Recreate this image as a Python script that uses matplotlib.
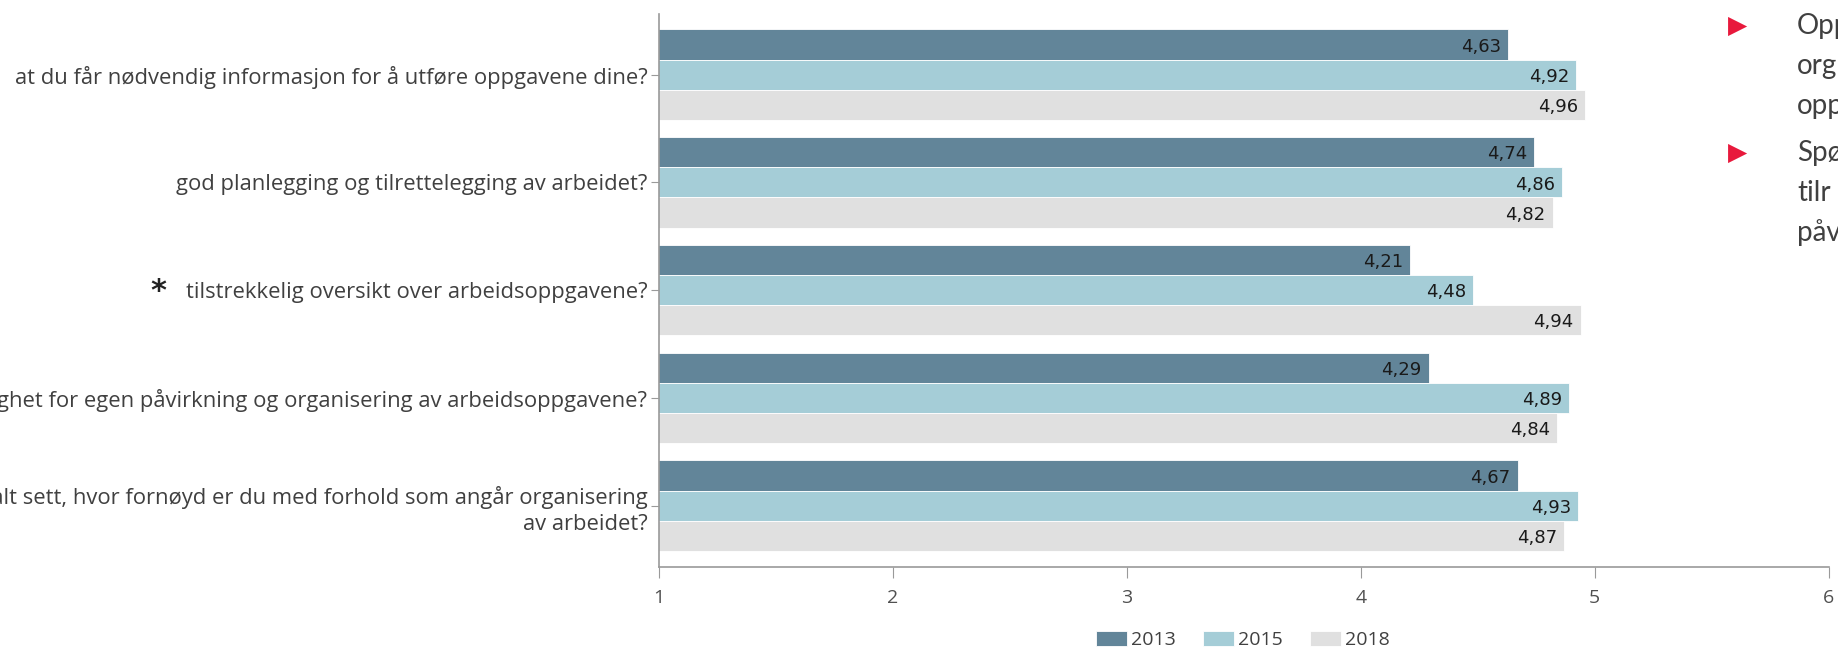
import matplotlib
matplotlib.use("Agg")
import matplotlib.pyplot as plt
import numpy as np

categories = [
    "at du får nødvendig informasjon for å utføre oppgavene dine?",
    "god planlegging og tilrettelegging av arbeidet?",
    "tilstrekkelig oversikt over arbeidsoppgavene?",
    "mulighet for egen påvirkning og organisering av arbeidsoppgavene?",
    "Totalt sett, hvor fornøyd er du med forhold som angår organisering\nav arbeidet?",
]
years = ["2013", "2015", "2018"]
v2013 = [4.63, 4.74, 4.21, 4.29, 4.67]
v2015 = [4.92, 4.86, 4.48, 4.89, 4.93]
v2018 = [4.96, 4.82, 4.94, 4.84, 4.87]
colors = ["#628599", "#a5cdd7", "#e0e0e0"]
x_ticks = [1, 2, 3, 4, 5, 6]
bullets = [["Opp", "org", "opp"],
           ["Spø", "tilr", "påv"]]

plt.rcParams['font.family'] = ['Open Sans', 'DejaVu Sans']

fig = plt.figure(figsize=(18.38, 6.49), dpi=100)
ax = fig.add_axes([0.3583, 0.1263, 0.995 - 0.3583, 0.978 - 0.1263])

y = np.arange(len(categories))
h = 0.28
series = [v2013, v2015, v2018]
for i, (vals, col, yr) in enumerate(zip(series, colors, years)):
    pos = y + (i - 1) * h
    bars = ax.barh(pos, vals, height=h, left=0, color=col, label=yr,
                   edgecolor="white", linewidth=0.6)
    for b, v in zip(bars, vals):
        ax.text(v - 0.03, b.get_y() + b.get_height() / 2 + 0.02,
                f"{v:.2f}".replace(".", ","), ha="right", va="center",
                fontsize=13, color="#1a1a1a", family="DejaVu Sans")

ax.set_xlim(1, 6)
ax.set_ylim(4.57, -0.56)
ax.set_xticks(x_ticks)
ax.set_xticklabels([str(t) for t in x_ticks])
ax.set_yticks(y)
ax.set_yticklabels(categories, fontsize=15.8, color="#404040", linespacing=1.3)

for s in ["top", "right"]:
    ax.spines[s].set_visible(False)
for s in ["left", "bottom"]:
    ax.spines[s].set_color("#9a9a9a")
    ax.spines[s].set_linewidth(1.2)
ax.tick_params(axis="y", length=6, color="#9a9a9a", pad=2)
ax.tick_params(axis="x", length=8, color="#9a9a9a", labelsize=14,
               labelcolor="#505050", pad=8)

# asterisk marker next to third category
fig.text(158 / 1838, 1 - 291 / 649, "*", fontsize=22, fontweight="bold",
         color="#222222", ha="center", va="center", family="DejaVu Sans")

leg = fig.legend(loc="center", bbox_to_anchor=(1243 / 1838, 1 - 640 / 649),
                 ncol=3, frameon=False, fontsize=14, handlelength=1.6,
                 handleheight=0.8, columnspacing=1.4, handletextpad=0.2,
                 labelcolor="#404040")

# right-side bullet text fragments (the slide is cropped at the edge)
line_y = [[26, 66, 106], [153, 193, 233]]
for grp, ys in zip(bullets, line_y):
    fig.text(1738 / 1838, 1 - (ys[0]) / 649, "\u25B6", fontsize=18,
             color="#e8193c", ha="center", va="center", family="DejaVu Sans")
    for txt, yy in zip(grp, ys):
        fig.text(1797 / 1838, 1 - yy / 649, txt, fontsize=20, color="#404040",
                 ha="left", va="center", family="Lato")

fig.savefig("out.png", dpi=100)
